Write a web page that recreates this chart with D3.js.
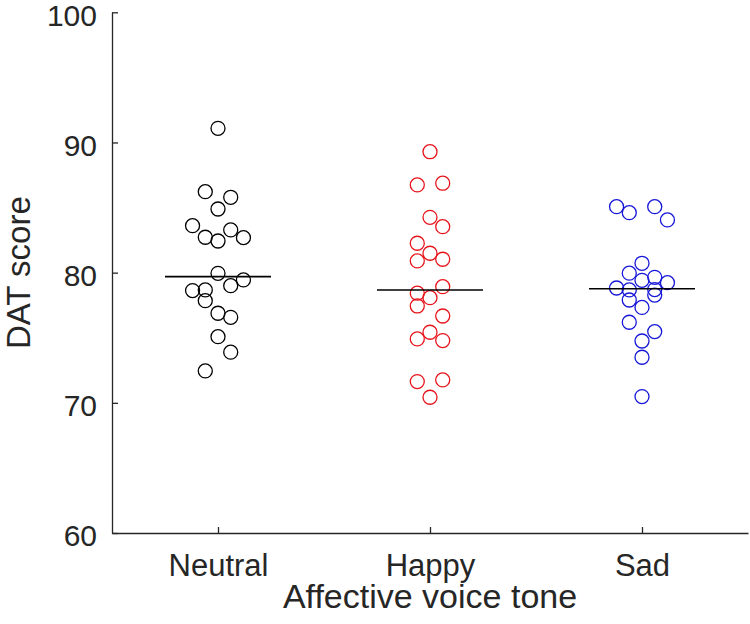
<!DOCTYPE html>
<html>
<head>
<meta charset="utf-8">
<script src="https://cdn.jsdelivr.net/npm/d3@7"></script>
<style>
  body { margin: 0; background: #fff; }
  text { font-family: Helvetica, Arial, "Liberation Sans", sans-serif; fill: #262626; }
</style>
</head>
<body>
<div id="app"></div>
<script>
// scores per voice tone (one per participant)
const categories = ['Neutral', 'Happy', 'Sad'];
const neutralScores = [83.61, 78.62, 86.22, 82.72, 78.67, 77.85, 72.45, 91.09, 84.89, 82.43,
    79.95, 76.88, 75.08, 85.79, 83.28, 79.00, 76.57, 73.89, 82.69, 79.44];
const happyScores = [86.74, 82.26, 80.90, 78.42, 77.44, 74.91, 71.63, 89.29, 84.25, 81.49,
    78.08, 75.42, 70.43, 86.87, 83.53, 81.03, 78.92, 76.67, 74.78, 71.76];
const sadScores = [85.07, 78.82, 84.61, 79.96, 78.67, 77.90, 76.19, 73.50, 80.72, 79.64,
    77.33, 70.48, 85.07, 79.41, 78.70, 78.28, 75.47, 74.75, 84.05, 79.23];
const yTicks = [60, 70, 80, 90, 100];

const groups = [neutralScores, happyScores, sadScores];
const colors = ['#000000', '#e8141c', '#1616d8'];
// side spreading: points falling in the same score bin are put side by side
const spreadBins = [{ size: 2, start: 0.3 }, { size: 2, start: 1.9 }, { size: 1.1, start: 0.4 }];
const slotStep = 0.06;   // in category units
const medianHalf = 0.25;

const width = 750;
const height = 624;
const margin = { top: 12.3, right: 2, bottom: 91, left: 112 };

const svg = d3.select('#app').append('svg')
    .attr('width', width).attr('height', height);

const x = d3.scaleLinear().domain([0.5, 3.5]).range([margin.left, width - margin.right]);
const y = d3.scaleLinear().domain([60, 100]).range([height - margin.bottom, margin.top]);

// integer side slots for each value, centred within its bin
const slotsFor = (values, bin) => {
    const out = new Array(values.length);
    const byBin = d3.group(d3.range(values.length), i => Math.floor((values[i] - bin.start) / bin.size));
    for (const idx of byBin.values()) {
        const n = idx.length;
        idx.forEach((i, k) => {
            out[i] = n % 2 ? k - (n - 1) / 2 : (k < n / 2 ? k - n / 2 : k - n / 2 + 1);
        });
    }
    return out;
};

const points = groups.flatMap((vals, gi) => {
    const slots = slotsFor(vals, spreadBins[gi]);
    return vals.map((v, i) => ({ g: gi, v, pos: gi + 1 + slots[i] * slotStep }));
});

svg.append('g').selectAll('circle').data(points).join('circle')
    .attr('cx', d => x(d.pos))
    .attr('cy', d => y(d.v))
    .attr('r', 7)
    .attr('fill', 'none')
    .attr('stroke', d => colors[d.g])
    .attr('stroke-width', 1.3);

svg.append('g').selectAll('line').data(groups).join('line')
    .attr('x1', (d, i) => x(i + 1 - medianHalf))
    .attr('x2', (d, i) => x(i + 1 + medianHalf))
    .attr('y1', d => y(d3.median(d)))
    .attr('y2', d => y(d3.median(d)))
    .attr('stroke', '#000')
    .attr('stroke-width', 1.6);

// axes, ticks pointing inwards like the original
const yAxis = svg.append('g')
    .attr('transform', `translate(${margin.left},0)`)
    .call(d3.axisLeft(y).tickValues(yTicks).tickSizeInner(-6).tickSizeOuter(0).tickPadding(15));

const xAxis = svg.append('g')
    .attr('transform', `translate(0,${height - margin.bottom})`)
    .call(d3.axisBottom(x).tickValues([1, 2, 3]).tickFormat(i => categories[i - 1])
        .tickSizeInner(-6).tickSizeOuter(0).tickPadding(21));

[yAxis, xAxis].forEach(a => {
    a.select('.domain').attr('stroke', '#262626').attr('stroke-width', 1.3);
    a.selectAll('.tick line').attr('stroke', '#262626').attr('stroke-width', 1.3);
    a.selectAll('.tick text').attr('font-size', 31).attr('fill', '#262626')
        .style('font-family', 'Helvetica, Arial, "Liberation Sans", sans-serif');
});
yAxis.selectAll('.tick text').attr('font-size', 30).attr('dy', '0.43em');

svg.append('text')
    .attr('x', (margin.left + width - margin.right) / 2)
    .attr('y', 608)
    .attr('text-anchor', 'middle')
    .attr('font-size', 34)
    .text('Affective voice tone');

svg.append('text')
    .attr('transform', `translate(30,${y(80)}) rotate(-90)`)
    .attr('text-anchor', 'middle')
    .attr('font-size', 33)
    .text('DAT score');
</script>
</body>
</html>
